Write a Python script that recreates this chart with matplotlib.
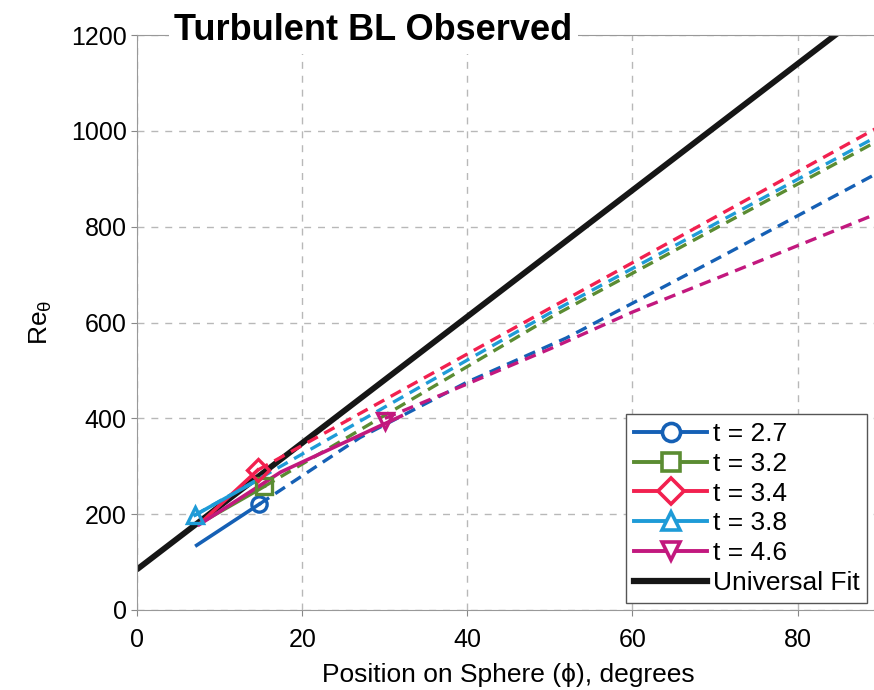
import matplotlib
matplotlib.use("Agg")
import matplotlib.pyplot as plt
from matplotlib.lines import Line2D

plt.rcParams["font.family"] = ["Liberation Sans", "DejaVu Sans"]
plt.rcParams["mathtext.default"] = "regular"

# series labels and styles
labels = ["t = 2.7", "t = 3.2", "t = 3.4", "t = 3.8", "t = 4.6"]
colors = ["#1560b5", "#5b8c32", "#f2204f", "#1e9bd7", "#c2187e"]
markers = ["o", "s", "D", "^", "v"]

# marker position (phi, Re_theta) for each t
mark_x = [14.8, 15.4, 14.6, 7.0, 30.0]
mark_y = [221, 258, 292, 198, 395]

# measured (solid) segments
solid_x = [[7.2, 14.8], [8.0, 15.4], [7.7, 14.6], [7.0, 15.0], [7.5, 17.4, 32.0]]
solid_y = [[135, 221], [185, 258], [182, 292], [198, 275], [178, 288, 405]]

# extrapolated (dashed) fits
dash_x = [[14.8, 27, 40, 52, 71, 90],
          [15.4, 50, 90],
          [14.6, 50, 90],
          [7.0, 50, 90],
          [30.0, 40, 50, 60, 71, 90]]
dash_y = [[221, 360, 476, 568, 740, 915],
          [258, 610, 982],
          [292, 630, 1010],
          [198, 620, 992],
          [400, 472, 545, 622, 698, 830]]

# universal fit
fit_x = [0, 90]
fit_y = [85, 1272]

fig = plt.figure(figsize=(8.74, 6.9), dpi=100)
ax = fig.add_axes([0.157, 0.116, 0.85, 0.833])

ax.plot(fit_x, fit_y, color="#161616", lw=4.2, zorder=2, solid_capstyle="round")

for i in range(len(labels)):
    ax.plot(dash_x[i], dash_y[i], color=colors[i], lw=2.4, ls=(0, (3.5, 2.2)), zorder=3)
for i in range(len(labels)):
    ax.plot(solid_x[i], solid_y[i], color=colors[i], lw=2.6, zorder=4)
    ax.plot(mark_x[i], mark_y[i], color=colors[i], marker=markers[i], ms=11,
            mfc="none", mew=2.4, zorder=5, ls="none")

ax.set_xlim(0, 90)
ax.set_ylim(0, 1200)
ax.set_xticks([0, 20, 40, 60, 80])
ax.set_yticks([0, 200, 400, 600, 800, 1000, 1200])
ax.tick_params(labelsize=18, length=4, color="#888888")
ax.tick_params(axis="x", pad=9)
ax.grid(True, ls=(0, (5, 5)), color="#b8b8b8", lw=1)
for s in ax.spines.values():
    s.set_color("#999999")

ax.set_xlabel("Position on Sphere (\u03d5), degrees", fontsize=19, labelpad=8)
ax.set_ylabel("Re$_\\theta$", fontsize=19, labelpad=12)

ax.text(0.05, 1.008, "Turbulent BL Observed", transform=ax.transAxes,
        fontsize=26, fontweight="bold", va="center", ha="left",
        bbox=dict(facecolor="white", edgecolor="none", pad=4))

handles = [Line2D([0], [0], color=colors[i], lw=2.8, marker=markers[i], ms=13,
                  mfc="white", mew=2.6) for i in range(len(labels))]
handles.append(Line2D([0], [0], color="#161616", lw=4.5))
leg = ax.legend(handles, labels + ["Universal Fit"], loc="lower right",
                bbox_to_anchor=(0.99, 0.003), fontsize=19, handlelength=2.8,
                handletextpad=0.2, labelspacing=0.22, borderpad=0.3,
                borderaxespad=0.2, fancybox=False, framealpha=1)
leg.get_frame().set_edgecolor("#555555")

fig.savefig("out.png", dpi=100)
